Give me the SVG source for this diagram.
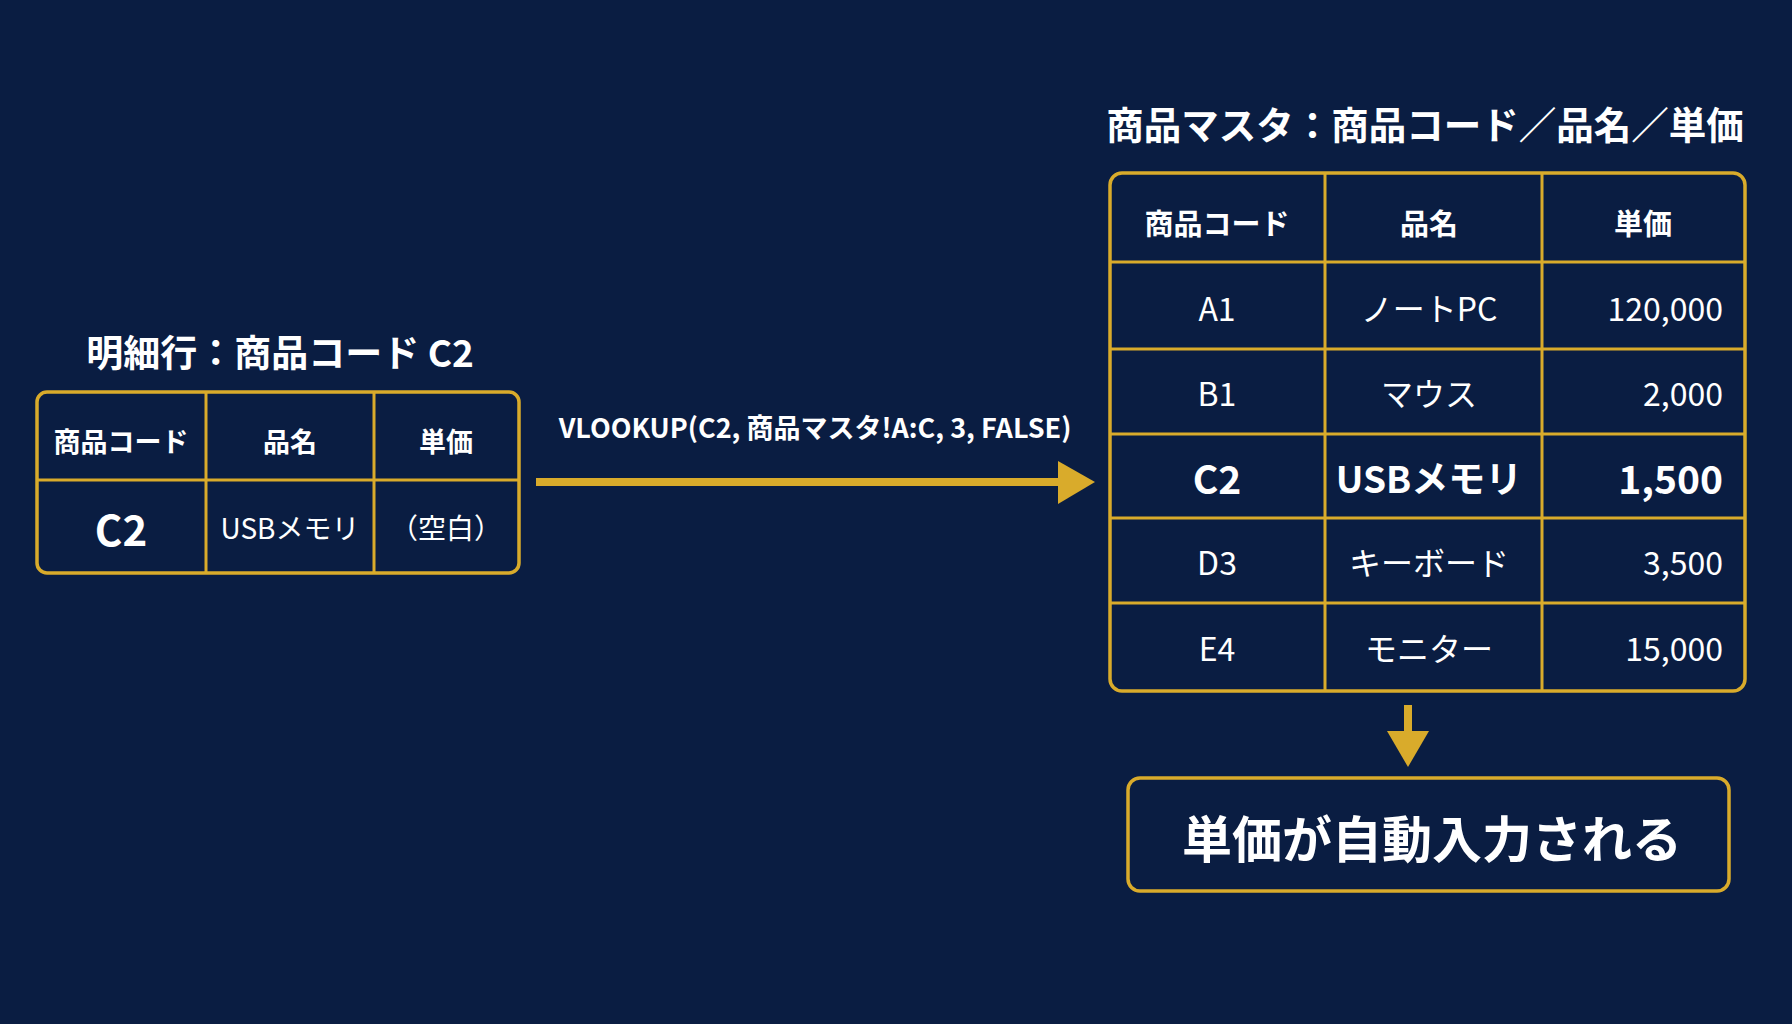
<svg xmlns="http://www.w3.org/2000/svg" width="1792" height="1024" viewBox="0 0 1792 1024">
<defs><style>
.t{font-family:"Noto Sans CJK JP","Noto Sans",sans-serif;fill:#ffffff;dominant-baseline:central}
.b{font-weight:bold}
.c{text-anchor:middle}
.r{text-anchor:end}
.box{fill:none;stroke:#d9ab2b;stroke-width:3.5}
.ln{stroke:#d9ab2b;stroke-width:3}
</style></defs>
<rect width="1792" height="1024" fill="#0a1d42"/>
<g id="detail">
<text class="t b c" x="280" y="351" font-size="37">明細行：商品コード C2</text>
<rect class="box" x="37" y="392" width="482" height="181" rx="10"/>
<line class="ln" x1="206" y1="392" x2="206" y2="573"/>
<line class="ln" x1="374" y1="392" x2="374" y2="573"/>
<line class="ln" x1="37" y1="480" x2="519" y2="480"/>
<text class="t b c" x="121" y="440" font-size="27">商品コード</text>
<text class="t b c" x="290" y="440" font-size="27">品名</text>
<text class="t b c" x="446" y="440" font-size="27">単価</text>
<text class="t b c" x="121" y="527" font-size="42">C2</text>
<text class="t c" x="290" y="527" font-size="28">USBメモリ</text>
<text class="t c" x="446" y="527" font-size="28">（空白）</text>
</g>
<g id="connectors">
<line x1="536" y1="482" x2="1062" y2="482" stroke="#d9ab2b" stroke-width="8"/>
<polygon points="1058,461 1095,482 1058,504" fill="#d9ab2b"/>
<text class="t b c" x="815" y="426" font-size="27">VLOOKUP(C2, 商品マスタ!A:C, 3, FALSE)</text>
<line x1="1408" y1="705" x2="1408" y2="735" stroke="#d9ab2b" stroke-width="8"/>
<polygon points="1387,731 1429,731 1408,767" fill="#d9ab2b"/>
</g>
<g id="master">
<text class="t b c" x="1425" y="122" font-size="37.5">商品マスタ：商品コード／品名／単価</text>
<rect class="box" x="1110" y="173" width="635" height="518" rx="12"/>
<line class="ln" x1="1325" y1="173" x2="1325" y2="691"/>
<line class="ln" x1="1542" y1="173" x2="1542" y2="691"/>
<line class="ln" x1="1110" y1="262" x2="1745" y2="262"/>
<line class="ln" x1="1110" y1="349" x2="1745" y2="349"/>
<line class="ln" x1="1110" y1="434" x2="1745" y2="434"/>
<line class="ln" x1="1110" y1="518" x2="1745" y2="518"/>
<line class="ln" x1="1110" y1="603" x2="1745" y2="603"/>
<text class="t b c" x="1217" y="222" font-size="29">商品コード</text>
<text class="t b c" x="1429" y="222" font-size="29">品名</text>
<text class="t b c" x="1643" y="222" font-size="29">単価</text>
<text class="t c" x="1217" y="307" font-size="32">A1</text>
<text class="t c" x="1429" y="307" font-size="32">ノートPC</text>
<text class="t r" x="1723" y="307" font-size="32">120,000</text>
<text class="t c" x="1217" y="392" font-size="32">B1</text>
<text class="t c" x="1429" y="392" font-size="32">マウス</text>
<text class="t r" x="1723" y="392" font-size="32">2,000</text>
<text class="t b c" x="1217" y="477" font-size="39">C2</text>
<text class="t b c" x="1429" y="477" font-size="37">USBメモリ</text>
<text class="t b r" x="1723" y="477" font-size="39">1,500</text>
<text class="t c" x="1217" y="561" font-size="32">D3</text>
<text class="t c" x="1429" y="561" font-size="32">キーボード</text>
<text class="t r" x="1723" y="561" font-size="32">3,500</text>
<text class="t c" x="1217" y="647" font-size="32">E4</text>
<text class="t c" x="1429" y="647" font-size="32">モニター</text>
<text class="t r" x="1723" y="647" font-size="32">15,000</text>
</g>
<g id="result">
<rect class="box" x="1128" y="778" width="601" height="113" rx="12"/>
<text class="t b c" x="1432" y="836" font-size="50">単価が自動入力される</text>
</g>
</svg>
